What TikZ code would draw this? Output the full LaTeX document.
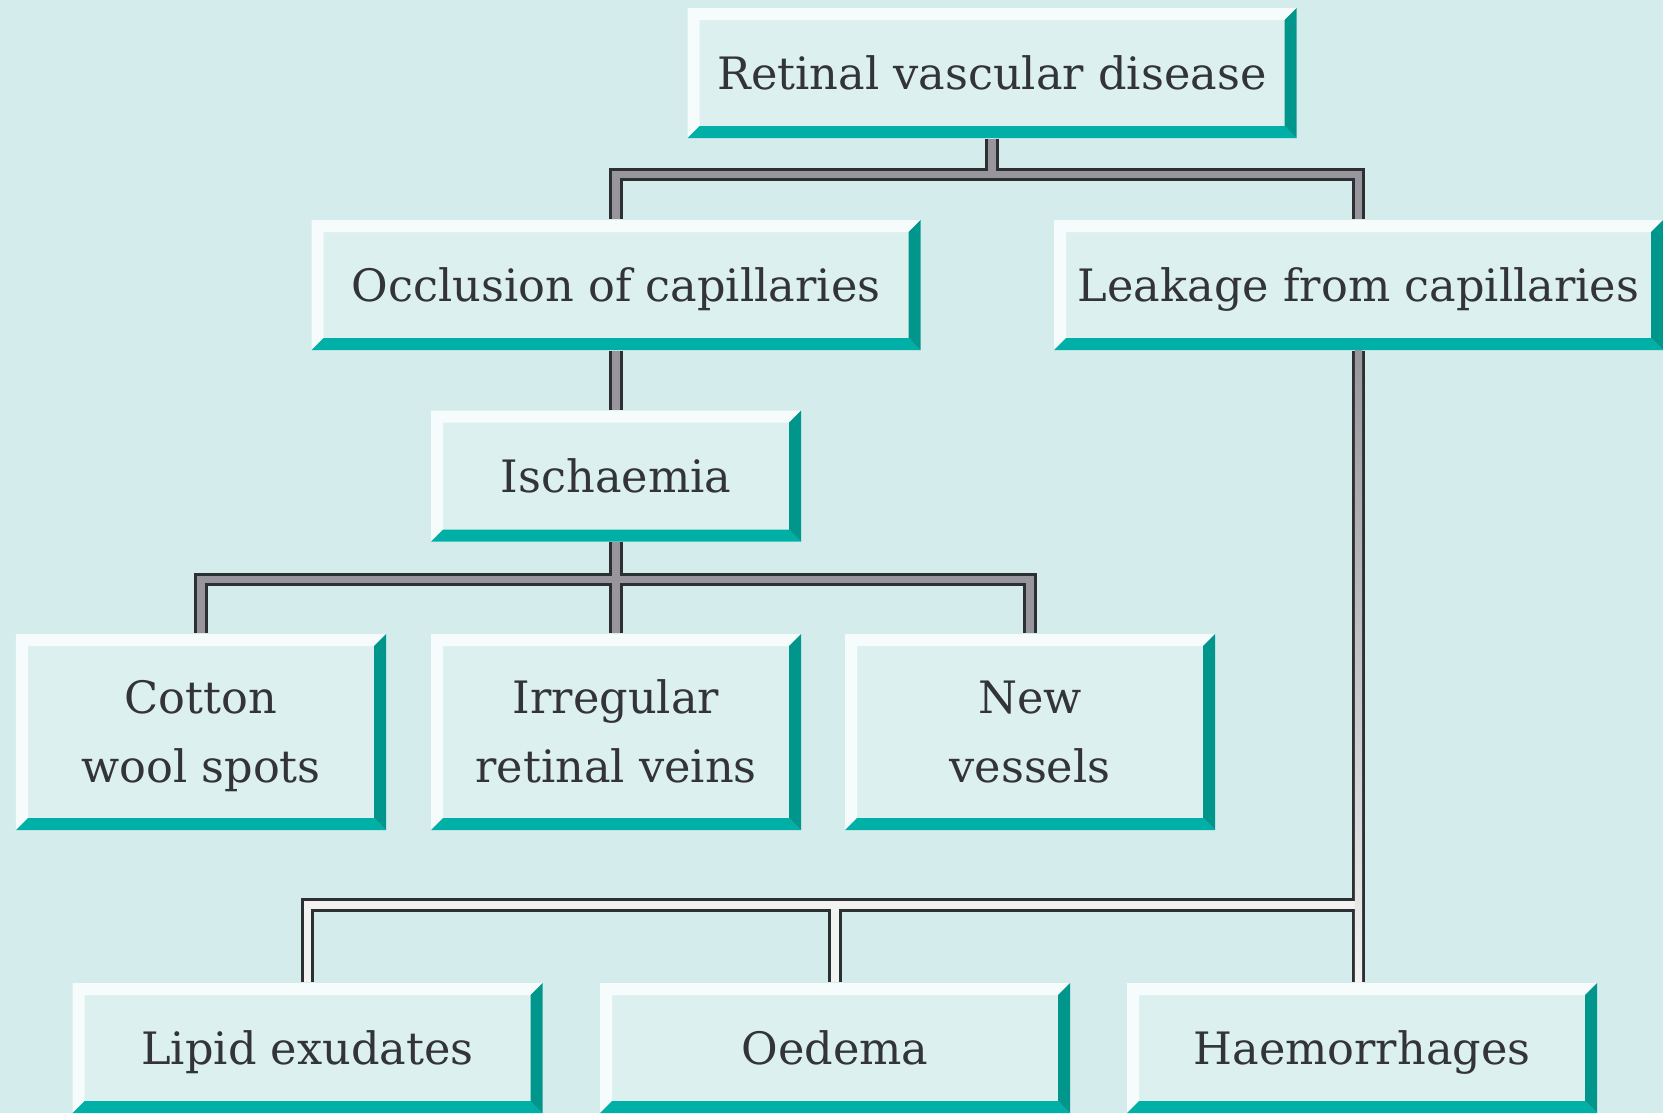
\documentclass[tikz,border=0pt]{standalone}
\usepackage{fontspec}
\setmainfont{DejaVu Serif}
\usepackage{tikz}

\definecolor{paper}{RGB}{213,236,237}
\definecolor{boxface}{RGB}{221,240,240}
\definecolor{bevellight}{RGB}{246,251,251}
\definecolor{bevelteal}{RGB}{0,176,166}
\definecolor{beveldark}{RGB}{0,150,140}
\definecolor{inktext}{RGB}{50,52,56}
\definecolor{wiredark}{RGB}{45,48,50}
\definecolor{wiregray}{RGB}{152,150,156}
\definecolor{wirelight}{RGB}{242,242,242}
\newcommand{\bev}{0.12cm}

\begin{document}
\begin{tikzpicture}[
    bevelbox/.style={rectangle, fill=boxface, text=inktext, inner sep=0pt, align=center,
        font=\fontsize{12.7}{19.6}\selectfont,
        path picture={
            \coordinate (bl) at (path picture bounding box.south west);
            \coordinate (tr) at (path picture bounding box.north east);
            \coordinate (tl) at (bl |- tr);
            \coordinate (br) at (tr |- bl);
            \fill[bevellight] (bl) -- (tl) -- (tr) -- ([shift={(-\bev,-\bev)}]tr)
                -- ([shift={(\bev,-\bev)}]tl) -- ([shift={(\bev,\bev)}]bl) -- cycle;
            \fill[bevelteal] (bl) -- ([shift={(\bev,\bev)}]bl) -- ([shift={(-\bev,\bev)}]br) -- (br) -- cycle;
            \fill[beveldark] (br) -- ([shift={(-\bev,\bev)}]br) -- ([shift={(-\bev,-\bev)}]tr) -- (tr) -- cycle;
        }},
    widebox/.style={bevelbox, minimum width=6.09cm, minimum height=1.30cm, text height=9.3pt, text depth=0pt},
    smallbox/.style={bevelbox, minimum width=3.70cm, minimum height=1.31cm, text height=9.3pt, text depth=0pt},
    tallbox/.style={bevelbox, minimum width=3.70cm, minimum height=1.96cm, text height=28.9pt, text depth=0pt},
    lowbox/.style={bevelbox, minimum width=4.70cm, minimum height=1.30cm, text height=9.3pt, text depth=0pt},
    wireout/.style={draw=wiredark, line width=3.8pt, line join=miter},
    wirein/.style={draw=wiregray, line width=2.1pt, line join=miter},
    wirelow/.style={draw=wirelight, line width=2.1pt, line join=miter}
]
    \fill[paper] (0,0) rectangle (16.63,11.13);
    \useasboundingbox (0,0) rectangle (16.63,11.13);

    \node[widebox] (root) at (9.92, 10.40) {Retinal vascular disease};
    \node[widebox] (occl) at (6.16, 8.28) {Occlusion of capillaries};
    \node[widebox] (leak) at (13.585, 8.28) {Leakage from capillaries};
    \node[smallbox] (isch) at (6.16, 6.37) {Ischaemia};
    \node[tallbox] (cotton) at (2.01, 3.81) {Cotton\\wool spots};
    \node[tallbox] (irreg) at (6.16, 3.81) {Irregular\\retinal veins};
    \node[tallbox] (newves) at (10.30, 3.81) {New\\vessels};
    \node[lowbox] (lipid) at (3.075, 0.65) {Lipid exudates};
    \node[lowbox] (oedema) at (8.35, 0.65) {Oedema};
    \node[lowbox] (haem) at (13.62, 0.65) {Haemorrhages};

    \coordinate (leakfoot) at (leak.south |- haem.north);
    \coordinate (lowbus) at (leak.south |- 0,2.08);

    % outlines first
    \foreach \lay in {wireout, wirein} {
        \draw[\lay] (root.south) -- ++(0,-0.36) -| (occl.north);
        \draw[\lay] (root.south) -- ++(0,-0.36) -| (leak.north);
        \draw[\lay] (occl.south) -- (isch.north);
        \draw[\lay] (isch.south) -- ++(0,-0.37) -| (cotton.north);
        \draw[\lay] (isch.south) -- ++(0,-0.37) -| (irreg.north);
        \draw[\lay] (isch.south) -- ++(0,-0.37) -| (newves.north);
    }
    \draw[wireout] (leak.south) -- (leakfoot);
    \draw[wireout] (lowbus) -| (lipid.north);
    \draw[wireout] (lowbus) -| (oedema.north);

    % light fill of the lower wires
    \draw[wirelow] (lowbus) -| (lipid.north);
    \draw[wirelow] (lowbus) -| (oedema.north);
    \shade[top color=wiregray, bottom color=wirelight]
        ([xshift=-1.05pt]leak.south) rectangle ([xshift=1.05pt]leakfoot);
\end{tikzpicture}
\end{document}
